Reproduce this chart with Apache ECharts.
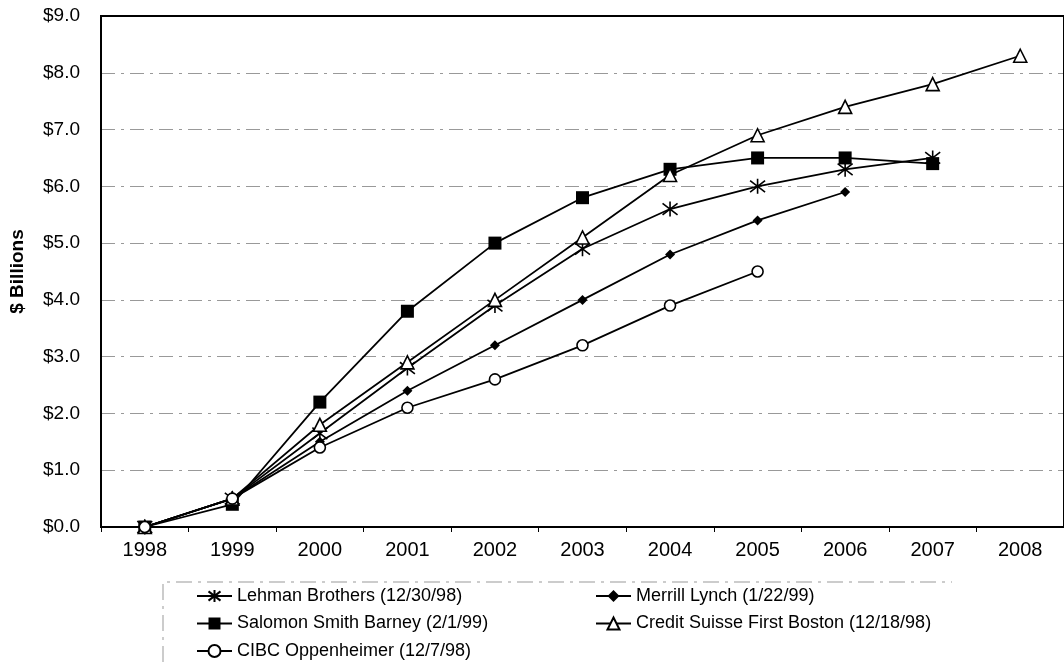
<!DOCTYPE html>
<html>
<head>
<meta charset="utf-8">
<script src="https://cdn.jsdelivr.net/npm/echarts@6/dist/echarts.min.js"></script>
<style>
html,body{margin:0;padding:0;background:#fff;}
#chart{width:1064px;height:662px;}
</style>
</head>
<body>
<div id="chart"></div>
<script>
var years = ['1998','1999','2000','2001','2002','2003','2004','2005','2006','2007','2008'];
var lehman  = [0, 0.5, 1.65, 2.8, 3.9, 4.9, 5.6, 6.0, 6.3, 6.5, null];
var merrill = [0, 0.5, 1.5, 2.4, 3.2, 4.0, 4.8, 5.4, 5.9, null, null];
var salomon = [0, 0.4, 2.2, 3.8, 5.0, 5.8, 6.3, 6.5, 6.5, 6.4, null];
var csfb    = [0, 0.5, 1.8, 2.9, 4.0, 5.1, 6.2, 6.9, 7.4, 7.8, 8.3];
var cibc    = [0, 0.5, 1.4, 2.1, 2.6, 3.2, 3.9, 4.5, null, null, null];
var names = ['Lehman Brothers (12/30/98)', 'Merrill Lynch (1/22/99)', 'Salomon Smith Barney (2/1/99)',
             'Credit Suisse First Boston (12/18/98)', 'CIBC Oppenheimer (12/7/98)'];

var FONT = 'Liberation Sans, Arial, sans-serif';
var chart = echarts.init(document.getElementById('chart'));
var asterisk = 'path://M0,0 L10,10 M0,10 L10,0 M5,-1.5 L5,11.5';

function mk(name, data, symbol, size, fill, stroke) {
  return {
    name: name, type: 'line', data: data, symbol: symbol, symbolSize: size,
    showAllSymbol: true, connectNulls: false,
    lineStyle: { color: '#000', width: 1.8 },
    itemStyle: { color: fill, borderColor: stroke ? '#000' : fill, borderWidth: stroke ? 1.6 : 0 },
    emphasis: { disabled: true }
  };
}
function leg(name, left, top) {
  return { data: [name], orient: 'horizontal', left: left, top: top,
    itemWidth: 35, itemHeight: 15, padding: 0,
    textStyle: { color: '#000', fontFamily: FONT, fontSize: 18, lineHeight: 20 } };
}

chart.setOption({
  animation: false,
  backgroundColor: '#fff',
  grid: { left: 100, top: 16, right: -4, bottom: 135, show: true, borderColor: '#000', borderWidth: 2, z: 3 },
  xAxis: [{
    type: 'category', data: years, boundaryGap: true,
    axisLine: { lineStyle: { color: '#000', width: 2 } },
    axisTick: { show: true, length: 5, lineStyle: { color: '#000' } },
    axisLabel: { color: '#000', fontFamily: FONT, fontSize: 20, margin: 13 },
    splitLine: { show: false }
  }, {
    type: 'category', data: years, position: 'top', boundaryGap: true,
    axisLine: { show: true, lineStyle: { color: '#000', width: 2 } },
    axisTick: { show: false }, axisLabel: { show: false }, splitLine: { show: false }, z: 5
  }],
  yAxis: {
    type: 'value', min: 0, max: 9, interval: 1,
    name: '$ Billions', nameLocation: 'middle', nameGap: 74,
    nameTextStyle: { color: '#000', fontFamily: FONT, fontSize: 19, fontWeight: 'bold' },
    axisLine: { show: true, lineStyle: { color: '#000', width: 2 } },
    axisTick: { show: false },
    axisLabel: { color: '#000', fontFamily: FONT, fontSize: 19, margin: 21,
      formatter: function (v) { return '$' + v.toFixed(1); } },
    splitLine: { show: true, showMaxLine: false, lineStyle: { color: '#999', width: 1, type: [14, 6, 3, 6] } }
  },
  legend: [
    leg(names[0], 196, 586),
    leg(names[2], 196, 613.5),
    leg(names[4], 196, 641),
    leg(names[1], 595, 586),
    leg(names[3], 595, 613.5)
  ],
  graphic: [
    { type: 'polyline', silent: true,
      shape: { points: [[163, 662], [163, 582], [952, 582]] },
      style: { stroke: '#999', lineWidth: 1, fill: null, lineDash: [16, 6, 3, 6] } }
  ],
  series: [
    mk(names[0], lehman, asterisk, 15, 'none', true),
    mk(names[1], merrill, 'diamond', 10, '#000', false),
    mk(names[2], salomon, 'rect', 13, '#000', false),
    mk(names[3], csfb, 'triangle', 13, '#fff', true),
    mk(names[4], cibc, 'circle', 11, '#fff', true)
  ]
});
</script>
</body>
</html>
